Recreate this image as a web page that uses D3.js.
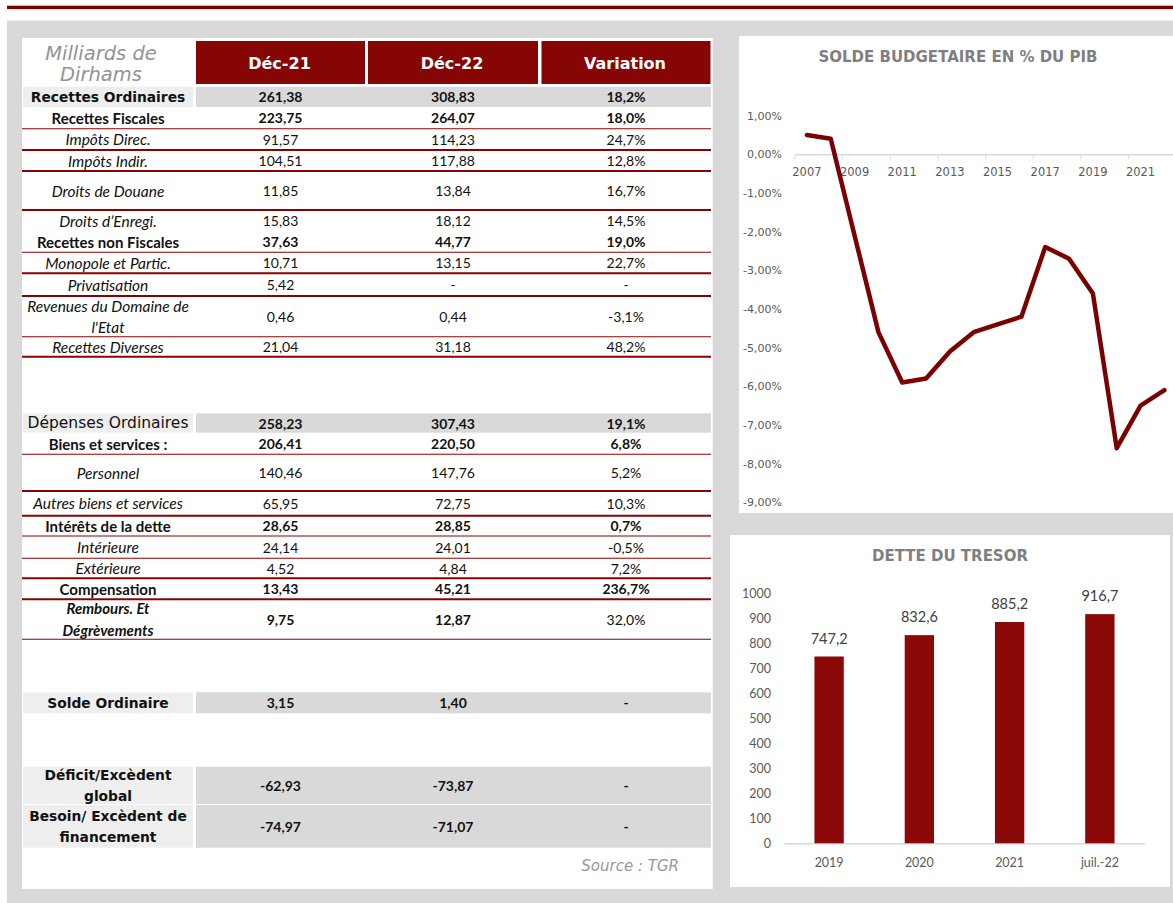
<!DOCTYPE html>
<html>
<head>
<meta charset="utf-8">
<script src="https://cdn.jsdelivr.net/npm/d3@7"></script>
<style>
    html, body { margin: 0; padding: 0; background: #fff; }
    svg { display: block; }
</style>
</head>
<body>
<div id="chart"></div>
<script>
(function() {
    "use strict";

    // ---- Table data (milliards de dirhams) ----
    var headers = ["Déc-21", "Déc-22", "Variation"];
    var rowLabels = [
        "Recettes Ordinaires", "Recettes Fiscales", "Impôts Direc.", "Impôts Indir.",
        "Droits de Douane", "Droits d\u2019Enregi.", "Recettes non Fiscales", "Monopole et Partic.",
        "Privatisation", "Revenues du Domaine de\nl'Etat", "Recettes Diverses",
        "Dépenses Ordinaires", "Biens et services :", "Personnel", "Autres biens et services",
        "Intérêts de la dette", "Intérieure", "Extérieure", "Compensation",
        "Rembours. Et\nDégrèvements", "Solde Ordinaire", "Déficit/Excèdent\nglobal",
        "Besoin/ Excèdent de\nfinancement"
    ];
    var dec21 = [261.38, 223.75, 91.57, 104.51, 11.85, 15.83, 37.63, 10.71, 5.42, 0.46, 21.04,
                 258.23, 206.41, 140.46, 65.95, 28.65, 24.14, 4.52, 13.43, 9.75, 3.15, -62.93, -74.97];
    var dec22 = [308.83, 264.07, 114.23, 117.88, 13.84, 18.12, 44.77, 13.15, null, 0.44, 31.18,
                 307.43, 220.50, 147.76, 72.75, 28.85, 24.01, 4.84, 45.21, 12.87, 1.40, -73.87, -71.07];
    var variation = [18.2, 18.0, 24.7, 12.8, 16.7, 14.5, 19.0, 22.7, null, -3.1, 48.2,
                     19.1, 6.8, 5.2, 10.3, 0.7, -0.5, 7.2, 236.7, 32.0, null, null, null];

    // ---- Solde budgétaire en % du PIB ----
    var years = ["2007", "2008", "2009", "2010", "2011", "2012", "2013", "2014",
                 "2015", "2016", "2017", "2018", "2019", "2020", "2021", "2022"];
    var soldePib = [0.5, 0.4, -2.1, -4.6, -5.9, -5.8, -5.1, -4.6,
                    -4.4, -4.2, -2.4, -2.7, -3.6, -7.6, -6.5, -6.1];

    // ---- Dette du Trésor ----
    var detteCats = ["2019", "2020", "2021", "juil.-22"];
    var detteValues = [747.2, 832.6, 885.2, 916.7];

    // ---- Table layout (kept apart from the data) ----
    var rowHeights = [20.3, 21.7, 21.3, 21, 39, 21, 21.3, 21, 22.7, 40.7, 20,
                      19.4, 21.6, 36.7, 24.7, 20.3, 22.3, 20, 21, 40,
                      21, 37.3, 42.7];
    var gapBefore = {11: 56.6, 20: 53, 21: 53.4, 22: 1};
    var rowKinds = ["group", "bold", "italic", "italic", "italic", "italic", "bold", "italic", "italic", "italic", "italic",
                    "groupLight", "bold", "italic", "italic", "bold", "italic", "italic", "bold", "boldItalic",
                    "group", "group", "group"];
    var rowBorders = [0, 1, 2, 2, 2, 0, 1, 2, 2, 1, 2,
                      0, 1, 2, 2, 1, 1, 2, 2, 1,
                      0, 0, 0];

    var CG = "'DejaVu Sans', sans-serif";   // stands in for Century Gothic
    var CAL = "Lato, 'Open Sans', sans-serif"; // stands in for Calibri
    var RED = "#860606";

    var loc = d3.formatLocale({decimal: ",", thousands: " ", grouping: [3], currency: ["", ""], minus: "-"});
    var f2 = loc.format(".2f"), f1 = loc.format(".1f");
    function num(v) { return v == null ? "-" : f2(v); }
    function pct(v) { return v == null ? "-" : f1(v) + "%"; }

    var W = 1173, H = 903;
    var svg = d3.select("#chart").append("svg")
        .attr("width", W)
        .attr("height", H);

    // Page background, top rule and the three white panels.
    svg.append("rect").attr("x", 7).attr("y", 20.7).attr("width", W - 7).attr("height", H - 20.7).attr("fill", "#d9d9d9");
    svg.append("rect").attr("x", 7).attr("y", 5.7).attr("width", W - 7).attr("height", 3.4).attr("fill", "#7b0000");
    [[22, 38, 690.7, 851], [739, 36, W - 739, 477], [730, 535, 440, 352]].forEach(function(p) {
        svg.append("rect").attr("x", p[0]).attr("y", p[1]).attr("width", p[2]).attr("height", p[3]).attr("fill", "#fff");
    });

    // ================= TABLE =================
    var table = svg.append("g");
    var colX = [196, 368, 541.5], colW = [169, 170, 169];
    var labelX = 108;

    function multiText(g, str, x, cy, lineH) {
        var lines = str.split("\n");
        var t = g.append("text").attr("x", x).attr("text-anchor", "middle").attr("dominant-baseline", "central");
        lines.forEach(function(s, k) {
            t.append("tspan").attr("x", x).attr("y", cy + (k - (lines.length - 1) / 2) * lineH).text(s);
        });
        return t;
    }

    // Header
    multiText(table, "Milliards de\nDirhams", 101, 63.5, 21.5)
        .attr("font-family", CG).attr("font-style", "italic").attr("font-weight", 200)
        .attr("font-size", 19.5).attr("fill", "#939393");
    headers.forEach(function(h, i) {
        table.append("rect").attr("x", colX[i]).attr("y", 41).attr("width", colW[i]).attr("height", 43).attr("fill", RED);
        table.append("text")
            .attr("x", colX[i] + colW[i] / 2 - 1).attr("y", 63.5)
            .attr("text-anchor", "middle").attr("dominant-baseline", "central")
            .attr("font-family", CG).attr("font-weight", "bold").attr("font-size", 16).attr("fill", "#fff")
            .text(h);
    });

    // Body rows
    var top = 86.7;
    rowLabels.forEach(function(label, i) {
        if (gapBefore[i]) top += gapBefore[i];
        var h = rowHeights[i], cy = top + h / 2, kind = rowKinds[i];
        var g = table.append("g");
        var isGroup = kind === "group" || kind === "groupLight";

        if (isGroup) {
            g.append("rect").attr("x", 23).attr("y", top).attr("width", 170).attr("height", h).attr("fill", "#eeeeee");
            g.append("rect").attr("x", 196).attr("y", top).attr("width", 515).attr("height", h).attr("fill", "#d9d9d9");
        }

        var lt = multiText(g, label, labelX, cy, kind === "boldItalic" ? 22 : 20.5).attr("fill", "#111");
        if (isGroup) {
            lt.attr("font-family", CG)
              .attr("font-size", kind === "group" ? 13.8 : 15.5)
              .attr("font-weight", kind === "group" ? "bold" : "normal");
        } else {
            var bold = kind === "bold" || kind === "boldItalic";
            lt.attr("font-family", CAL)
              .attr("font-size", bold ? 15 : 15.5)
              .attr("font-weight", bold ? "bold" : "normal")
              .attr("font-style", kind === "italic" || kind === "boldItalic" ? "italic" : "normal");
        }

        var cells = [num(dec21[i]), num(dec22[i]), pct(variation[i])];
        cells.forEach(function(c, k) {
            var boldCell = isGroup || kind === "bold" || (kind === "boldItalic" && k < 2);
            g.append("text")
                .attr("x", colX[k] + colW[k] / 2).attr("y", cy)
                .attr("text-anchor", "middle").attr("dominant-baseline", "central")
                .attr("font-family", CAL).attr("font-size", 14)
                .attr("font-weight", boldCell ? "bold" : "normal")
                .attr("fill", "#111")
                .text(c);
        });

        if (rowBorders[i]) {
            g.append("line")
                .attr("x1", 22).attr("x2", 711)
                .attr("y1", top + h).attr("y2", top + h)
                .attr("stroke", "#8b0000").attr("stroke-width", rowBorders[i] === 2 ? 2 : 1.1);
        }
        top += h;
    });

    table.append("text")
        .attr("x", 679).attr("y", 866)
        .attr("text-anchor", "end").attr("dominant-baseline", "central")
        .attr("font-family", CG).attr("font-style", "italic").attr("font-weight", 200)
        .attr("font-size", 15).attr("fill", "#999999")
        .text("Source : TGR");

    // ================= LINE CHART =================
    var lc = svg.append("g");
    var x = d3.scaleBand().domain(years).range([795, 1176.3]);
    var y = d3.scaleLinear().domain([-9, 1]).range([502.3, 115.6]);

    lc.append("text")
        .attr("x", 958).attr("y", 57)
        .attr("text-anchor", "middle").attr("dominant-baseline", "central")
        .attr("font-family", CG).attr("font-weight", "bold").attr("font-size", 15).attr("fill", "#7f7f7f")
        .text("SOLDE BUDGETAIRE EN % DU PIB");

    var yAxis = lc.append("g")
        .attr("transform", "translate(786,0)")
        .call(d3.axisLeft(y).ticks(10).tickSize(0).tickPadding(4)
            .tickFormat(function(d) { return f2(d) + "%"; }));
    yAxis.select(".domain").remove();
    yAxis.selectAll("text").attr("font-family", CG).attr("font-size", 11).attr("fill", "#595959");

    var labelYears = years.filter(function(d, i) { return i % 2 === 0; });
    var xAxis = lc.append("g")
        .attr("transform", "translate(0," + y(0) + ")")
        .call(d3.axisBottom(x).tickValues(labelYears).tickSize(0).tickSizeOuter(0).tickPadding(14));
    xAxis.select(".domain").attr("stroke", "#d9d9d9").attr("stroke-width", 1.5);
    xAxis.selectAll("text").attr("font-family", CG).attr("font-size", 11.5).attr("fill", "#595959");
    xAxis.selectAll(".edge-tick")
        .data(labelYears)
        .enter()
        .append("line")
            .attr("x1", function(d) { return x(d); })
            .attr("x2", function(d) { return x(d); })
            .attr("y1", 0).attr("y2", 5)
            .attr("stroke", "#d9d9d9").attr("stroke-width", 1);

    var line = d3.line()
        .x(function(d, i) { return x(years[i]) + x.bandwidth() / 2; })
        .y(function(d) { return y(d); });
    lc.append("path")
        .datum(soldePib)
        .attr("d", line)
        .attr("fill", "none")
        .attr("stroke", "#7b0000")
        .attr("stroke-width", 4.5)
        .attr("stroke-linejoin", "round")
        .attr("stroke-linecap", "round");

    // ================= BAR CHART =================
    var bc = svg.append("g");
    var bx = d3.scaleBand().domain(detteCats).range([784, 1145]).paddingInner(0.675).paddingOuter(0.3375);
    var by = d3.scaleLinear().domain([0, 1000]).range([843.3, 593.3]);

    bc.append("text")
        .attr("x", 950).attr("y", 556)
        .attr("text-anchor", "middle").attr("dominant-baseline", "central")
        .attr("font-family", CG).attr("font-weight", "bold").attr("font-size", 15).attr("fill", "#7f7f7f")
        .text("DETTE DU TRESOR");

    var byAxis = bc.append("g")
        .attr("transform", "translate(775,0)")
        .call(d3.axisLeft(by).ticks(10).tickSize(0).tickPadding(4).tickFormat(d3.format("d")));
    byAxis.select(".domain").remove();
    byAxis.selectAll("text").attr("font-family", CAL).attr("font-size", 12.5).attr("fill", "#595959");

    var bxAxis = bc.append("g")
        .attr("transform", "translate(0," + by(0) + ")")
        .call(d3.axisBottom(bx).tickSize(0).tickSizeOuter(0).tickPadding(15));
    bxAxis.select(".domain").attr("stroke", "#d9d9d9").attr("stroke-width", 1.5);
    bxAxis.selectAll("text").attr("font-family", CAL).attr("font-size", 12.5).attr("fill", "#595959");

    bc.selectAll(".bar")
        .data(detteValues)
        .enter()
        .append("rect")
            .attr("class", "bar")
            .attr("x", function(d, i) { return bx(detteCats[i]); })
            .attr("y", function(d) { return by(d); })
            .attr("width", bx.bandwidth())
            .attr("height", function(d) { return by(0) - by(d); })
            .attr("fill", "#8b0808");

    bc.selectAll(".bar-label")
        .data(detteValues)
        .enter()
        .append("text")
            .attr("class", "bar-label")
            .attr("x", function(d, i) { return bx(detteCats[i]) + bx.bandwidth() / 2; })
            .attr("y", function(d) { return by(d) - 13; })
            .attr("text-anchor", "middle")
            .attr("font-family", CAL).attr("font-size", 14.5).attr("fill", "#404040")
            .text(function(d) { return f1(d); });
})();
</script>
</body>
</html>
